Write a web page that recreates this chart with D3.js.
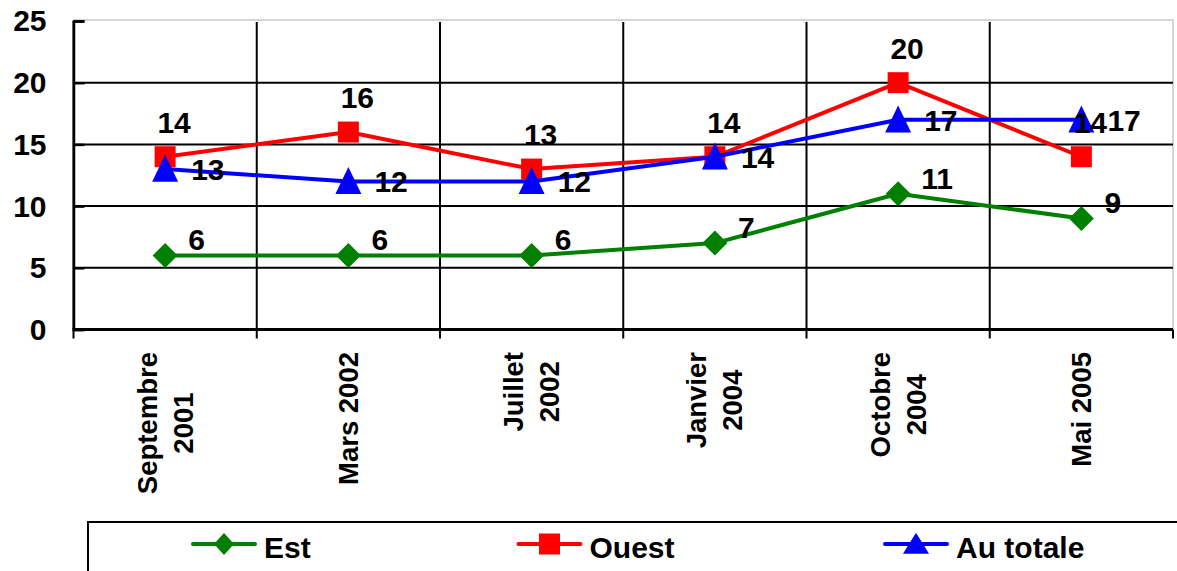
<!DOCTYPE html>
<html>
<head>
<meta charset="utf-8">
<script src="https://cdn.jsdelivr.net/npm/d3@7"></script>
<style>
  body { margin: 0; background: #fff; }
  svg { display: block; font-family: Arial, "Liberation Sans", sans-serif; font-weight: bold; }
</style>
</head>
<body>
<svg width="1177" height="571"></svg>
<script>
// chart data
const categories = ["Septembre 2001", "Mars 2002", "Juillet 2002", "Janvier 2004", "Octobre 2004", "Mai 2005"];
const categoryLines = [["Septembre", "2001"], ["Mars 2002"], ["Juillet", "2002"], ["Janvier", "2004"], ["Octobre", "2004"], ["Mai 2005"]];
const estValues = [6, 6, 6, 7, 11, 9];
const ouestValues = [14, 16, 13, 14, 20, 14];
const totalValues = [13, 12, 12, 14, 17, 17];
const yTicks = [0, 5, 10, 15, 20, 25];
const seriesNames = ["Est", "Ouest", "Au totale"];

const svg = d3.select('svg');
const plotLeft = 73.5, plotRight = 1173, plotTop = 21, plotBottom = 329.5;

const x = d3.scaleBand().domain(categories).range([plotLeft, plotRight]);
const y = d3.scaleLinear().domain([0, 25]).range([plotBottom, plotTop]);
const cx = (c) => x(c) + x.bandwidth() / 2;

// marker shapes
const diamond = (rx, ry) => `M0,${-ry}L${rx},0L0,${ry}L${-rx},0Z`;
const square = (s) => `M${-s/2},${-s/2}H${s/2}V${s/2}H${-s/2}Z`;
const triangle = (w, h) => `M0,${-h * 0.53}L${w/2},${h * 0.47}L${-w/2},${h * 0.47}Z`;

const series = [
  { name: seriesNames[0], values: estValues, color: '#008000', marker: diamond(12.5, 12.5), legendMarker: diamond(10, 11),
    label: { dx: 23, dy: -16, anchor: 'start' } },
  { name: seriesNames[1], values: ouestValues, color: '#ff0000', marker: square(21), legendMarker: square(21),
    label: { dx: 9, dy: -35, anchor: 'middle' } },
  { name: seriesNames[2], values: totalValues, color: '#0000ff', marker: triangle(26, 27), legendMarker: triangle(26, 21),
    label: { dx: 26, dy: 0, anchor: 'start' } }
];

// plot border (light gray top/right)
svg.append('path')
  .attr('d', `M${plotLeft},${plotTop - 1}H${plotRight}V${plotBottom}`)
  .attr('fill', 'none').attr('stroke', '#c8c8c8').attr('stroke-width', 1.5);

// horizontal gridlines
svg.append('g').selectAll('line')
  .data(yTicks.filter(t => t > 0 && t < 25))
  .join('line')
  .attr('x1', plotLeft).attr('x2', plotRight)
  .attr('y1', d => y(d)).attr('y2', d => y(d))
  .attr('stroke', '#000').attr('stroke-width', 2);

// vertical gridlines (category boundaries) and ticks below the axis
const bounds = categories.map(c => x(c)).concat([plotRight]);
svg.append('g').selectAll('line')
  .data(bounds)
  .join('line')
  .attr('x1', d => d).attr('x2', d => d)
  .attr('y1', (d, i) => i === 0 ? plotTop : (i === bounds.length - 1 ? plotBottom : plotTop + 1))
  .attr('y2', plotBottom + 9)
  .attr('stroke', '#000').attr('stroke-width', 2);

// y axis
const yAxis = svg.append('g')
  .attr('transform', `translate(${plotLeft},0)`)
  .call(d3.axisLeft(y).tickValues(yTicks).tickSize(-11).tickPadding(27));
yAxis.select('.domain').attr('stroke', '#000').attr('stroke-width', 2.5);
yAxis.selectAll('.tick line').attr('stroke', '#000').attr('stroke-width', 2.5);
yAxis.selectAll('.tick text')
  .attr('font-size', 30).attr('font-weight', 'bold').attr('font-family', 'Arial, "Liberation Sans", sans-serif')
  .attr('fill', '#000').attr('dy', '0.33em');

// x axis line
svg.append('line')
  .attr('x1', plotLeft - 1).attr('x2', plotRight)
  .attr('y1', y(0)).attr('y2', y(0))
  .attr('stroke', '#000').attr('stroke-width', 3);

// x labels, rotated, block aligned to the axis, lines centered
const lineGap = 36, labelTop = 352, xFont = 27.5;
categories.forEach((c, i) => {
  const lines = categoryLines[i];
  const g = svg.append('g');
  const texts = lines.map((t, k) => g.append('text')
    .attr('font-size', xFont).attr('text-anchor', 'middle').text(t));
  const w = d3.max(texts, t => t.node().getComputedTextLength());
  texts.forEach((t, k) => {
    const bx = cx(c) + (k - (lines.length - 1) / 2) * lineGap + 9.5;
    const by = labelTop + w / 2;
    t.attr('transform', `translate(${bx},${by}) rotate(-90)`);
  });
});

// lines and markers
const line = d3.line().x((d, i) => cx(categories[i])).y(d => y(d));
series.forEach(s => {
  svg.append('path')
    .attr('d', line(s.values))
    .attr('fill', 'none').attr('stroke', s.color).attr('stroke-width', 4)
    .attr('stroke-linejoin', 'round');
  svg.append('g').selectAll('path')
    .data(s.values)
    .join('path')
    .attr('d', s.marker)
    .attr('transform', (d, i) => `translate(${cx(categories[i])},${y(d)})`)
    .attr('fill', s.color);
});

// data labels
series.forEach(s => {
  svg.append('g').selectAll('text')
    .data(s.values)
    .join('text')
    .attr('x', (d, i) => cx(categories[i]) + s.label.dx)
    .attr('y', d => y(d) + s.label.dy)
    .attr('dy', '0.36em')
    .attr('text-anchor', s.label.anchor)
    .attr('font-size', 30).attr('fill', '#000')
    .text(d => d);
});

// legend
svg.append('rect')
  .attr('x', 88).attr('y', 522).attr('width', 1100).attr('height', 80)
  .attr('fill', 'none').attr('stroke', '#000').attr('stroke-width', 2);

const legendX = [224, 549.5, 916];
const legendY = 544;
series.forEach((s, i) => {
  const g = svg.append('g').attr('transform', `translate(${legendX[i]},${legendY})`);
  g.append('line').attr('x1', -31).attr('x2', 31).attr('stroke', s.color)
    .attr('stroke-width', 4).attr('stroke-linecap', 'round');
  g.append('path').attr('d', s.legendMarker).attr('fill', s.color);
  g.append('text').attr('x', 40).attr('y', 14)
    .attr('font-size', 30).attr('fill', '#000').text(s.name);
});
</script>
</body>
</html>
